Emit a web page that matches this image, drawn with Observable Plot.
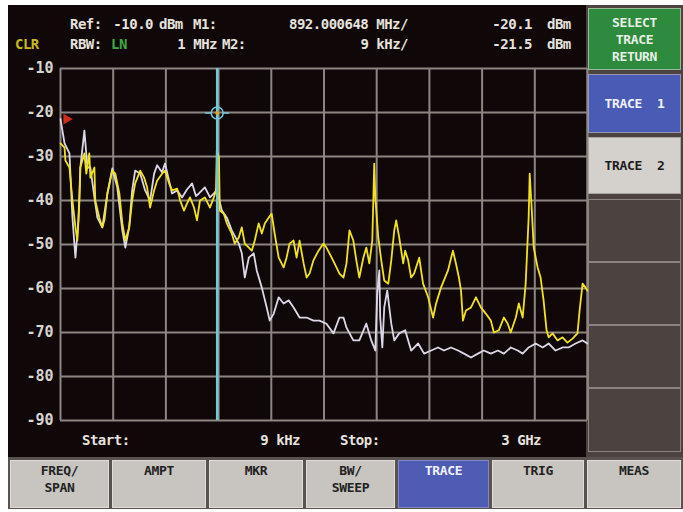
<!DOCTYPE html>
<html>
<head>
<meta charset="utf-8">
<script src="https://cdn.jsdelivr.net/npm/d3@7"></script>
<script src="https://cdn.jsdelivr.net/npm/@observablehq/plot@0.6"></script>
<style>
  html, body { margin: 0; padding: 0; background: #fff; }
  #app { position: relative; width: 683px; height: 512px; overflow: hidden;
         font-family: "DejaVu Sans Mono", monospace; font-weight: bold; }
  .screen { position: absolute; left: 8px; top: 5px; width: 578px; height: 452px; background: #100808; }
  .panel { position: absolute; left: 586px; top: 5px; width: 97px; height: 452px; background: #4c4240; }
  .menu { position: absolute; left: 8px; top: 457px; width: 675px; height: 52px; background: #5a5250; }
  .t { position: absolute; font-size: 14px; letter-spacing: -0.5px; line-height: 16px; color: #e6e2de; white-space: pre; }
  .key { position: absolute; box-sizing: border-box; display: flex; justify-content: center;
         text-align: center; white-space: pre; font-size: 13px; letter-spacing: -0.3px; line-height: 17px; }
  #chart { position: absolute; left: 0; top: 0; }
</style>
</head>
<body>
<div id="app">
  <div class="screen"></div>
  <div class="panel"></div>
  <div class="menu"></div>
  <div id="chart"></div>
</div>
<script>
// Sweep settings
const startMHz = 0.009;      // 9 kHz
const stopMHz = 3000;        // 3 GHz
const refLevel = -10.0;      // dBm
const bottomLevel = -90;     // dBm
const rbwMHz = 1;

// Graticule
const freqGrid = [0.009, 300, 600, 900, 1200, 1500, 1800, 2100, 2400, 2700, 3000];
const levelTicks = [-10, -20, -30, -40, -50, -60, -70, -80, -90];

// Markers
const marker1 = {name: "M1", freq: 892.000648, level: -20.1};
const marker2 = {name: "M2", freq: 0.009, level: -21.5};

// Trace 1 (yellow): [frequency MHz, level dBm]
const trace1 = [
  [0.009,-27],[23,-28],[28,-30.9],[51,-32.5],[68,-40],[85,-46.1],[96,-49.1],[108,-40],[113,-32.5],
  [136,-29.3],[147,-33.9],[164,-29.3],[170,-34.8],[193,-32.5],[198,-40],[221,-43.9],[238,-46.1],
  [250,-44.5],[267,-38.4],[295,-33.2],[312,-33.9],[335,-38.4],[352,-45.2],[369,-49.1],[391,-46.1],
  [408,-40],[425,-36.1],[454,-33.2],[476,-34.8],[493,-37],[510,-41.6],[533,-37.7],[550,-35.5],
  [578,-33.9],[595,-33.2],[618,-36.1],[635,-37.7],[664,-37.3],[681,-40],[703,-42.3],[720,-40.7],
  [737,-39.3],[760,-41.6],[777,-44.5],[794,-40],[822,-39.3],[851,-41.6],[873,-39.3],[885,-37.7],
  [890,-28.6],[902,-30.2],[907,-42.3],[930,-43],[947,-45.2],[975,-47.5],[992,-49.8],[1015,-48.4],
  [1032,-46.1],[1049,-49.8],[1072,-50.7],[1089,-51.4],[1106,-49.1],[1128,-45.2],[1146,-47.5],
  [1163,-45.2],[1185,-43.9],[1202,-43],[1219,-47.5],[1242,-53],[1270,-55.2],[1287,-53],[1304,-49.8],
  [1327,-49.1],[1344,-53],[1361,-49.1],[1384,-54.3],[1401,-57.5],[1418,-56.6],[1440,-53.6],
  [1469,-51.4],[1497,-49.8],[1514,-50.7],[1531,-52],[1560,-54.3],[1588,-56.6],[1611,-57.5],
  [1628,-54.3],[1645,-46.8],[1667,-49.1],[1684,-53.6],[1701,-57.5],[1724,-53],[1741,-50.7],
  [1758,-54.3],[1775,-49.1],[1786,-31.6],[1792,-39.3],[1809,-48.4],[1826,-53.6],[1843,-58.2],
  [1866,-58.9],[1883,-53.6],[1900,-46.8],[1911,-44.5],[1928,-48.4],[1951,-54.3],[1962,-51.4],
  [1979,-53.6],[1996,-57.5],[2013,-56.6],[2042,-53],[2064,-58.9],[2093,-62],[2121,-66.6],
  [2138,-63.4],[2166,-59.8],[2206,-55.9],[2234,-51.4],[2251,-54.3],[2268,-57.5],[2280,-60.5],
  [2291,-67.3],[2308,-65],[2337,-64.3],[2365,-62],[2393,-64.3],[2421,-65.7],[2450,-67.3],
  [2467,-70],[2495,-69.5],[2524,-66.6],[2546,-68],[2563,-70],[2592,-66.6],[2609,-63.4],
  [2631,-66.6],[2648,-58.9],[2665,-43.9],[2671,-33.9],[2682,-41.6],[2694,-50.7],[2716,-55.2],
  [2733,-57.5],[2750,-62.7],[2767,-69.5],[2779,-71.1],[2801,-70.2],[2830,-71.8],[2858,-71.1],
  [2886,-72.3],[2915,-71.4],[2943,-70.2],[2955,-65],[2972,-58.9],[2989,-59.8],[3000,-60.5]
];

// Trace 2 (white): [frequency MHz, level dBm]
const trace2 = [
  [0.009,-21.5],[23,-27],[51,-29.3],[68,-43.9],[85,-53],[102,-44.5],[113,-32.5],[136,-24.1],
  [153,-32.5],[170,-32.5],[193,-39.3],[210,-43.9],[238,-46.1],[267,-38.4],[295,-32.7],[323,-37],
  [352,-46.8],[369,-50.7],[391,-46.1],[408,-37.7],[425,-33.2],[454,-33.9],[482,-37.7],[510,-40],
  [533,-33.9],[550,-32],[578,-33.6],[595,-31.6],[618,-35.5],[635,-38.4],[664,-37.7],[692,-39.3],
  [720,-37.5],[749,-36.1],[771,-39],[788,-38.4],[822,-37],[851,-39.3],[890,-37.7],[919,-42.3],
  [947,-43.9],[975,-46.8],[1015,-49.8],[1032,-52],[1049,-57.5],[1072,-53],[1100,-52],[1117,-55.9],
  [1146,-59.8],[1174,-64.3],[1191,-67.3],[1214,-65.7],[1242,-62],[1270,-63.4],[1299,-62.7],
  [1327,-64.3],[1361,-66.6],[1401,-66.6],[1440,-67.3],[1474,-67.3],[1514,-68],[1554,-70.2],
  [1588,-66.6],[1611,-66.6],[1628,-68.9],[1667,-71.8],[1701,-71.8],[1741,-68],[1769,-71.8],
  [1792,-74.1],[1803,-61.1],[1815,-55.9],[1820,-66.6],[1832,-73.4],[1843,-64.3],[1860,-60.5],
  [1883,-68],[1900,-71.8],[1928,-70.2],[1962,-69.5],[1996,-74.1],[2036,-72.5],[2070,-74.8],
  [2110,-74.1],[2149,-73.4],[2183,-74.1],[2223,-73.4],[2263,-74.1],[2297,-74.8],[2337,-75.7],
  [2376,-74.8],[2410,-74.1],[2450,-74.8],[2490,-74.1],[2524,-74.8],[2563,-73.4],[2603,-74.1],
  [2631,-74.8],[2665,-73.4],[2705,-72.5],[2745,-73.4],[2779,-72.5],[2818,-74.1],[2858,-73.4],
  [2892,-73.4],[2932,-72.5],[2972,-71.8],[3000,-72.5]
];

// Key labels
const softKeys = ["SELECT\nTRACE\nRETURN", "TRACE  1", "TRACE  2", "", "", "", ""];
const menuKeys = ["FREQ/\nSPAN", "AMPT", "MKR", "BW/\nSWEEP", "TRACE", "TRIG", "MEAS"];
const activeMenu = "TRACE";

const fmtFreq = f => f < 1 ? `${+(f * 1000).toFixed(3)} kHz` : f >= 1000 ? `${+(f / 1000).toFixed(6)} GHz` : `${f.toFixed(6)} MHz`;
const fmtSpan = f => f < 1 ? `${+(f * 1000).toFixed(3)} kHz` : f >= 1000 ? `${+(f / 1000).toFixed(3)} GHz` : `${f} MHz`;

// Marker crosshair: ring with short horizontal arms
const crosshair = {
  draw(ctx, size) {
    const r = Math.sqrt(size / Math.PI);
    ctx.moveTo(-2 * r, 0); ctx.lineTo(-r, 0);
    ctx.moveTo(r, 0); ctx.lineTo(2 * r, 0);
    ctx.moveTo(r, 0); ctx.arc(0, 0, r, 0, 2 * Math.PI);
  }
};

const gridColor = "#8c8682";
const chart = Plot.plot({
  width: 600,
  height: 457,
  marginLeft: 60,
  marginRight: 13,
  marginTop: 68,
  marginBottom: 37,
  style: {background: "transparent", color: "#d8d4d0", fontFamily: "DejaVu Sans Mono", fontSize: "15px", fontWeight: "bold"},
  x: {domain: [startMHz, stopMHz], axis: null},
  y: {domain: [bottomLevel, refLevel], ticks: levelTicks, tickSize: 0, tickPadding: 7, label: null, tickFormat: d => String(d)},
  marks: [
    Plot.ruleX(freqGrid, {stroke: gridColor, strokeWidth: 2}),
    Plot.ruleY(levelTicks, {stroke: gridColor, strokeWidth: 2}),
    Plot.line(trace2, {x: d => d[0], y: d => d[1], stroke: "#dcd8e8", strokeWidth: 1.8}),
    Plot.line(trace1, {x: d => d[0], y: d => d[1], stroke: "#f2e21e", strokeWidth: 1.8}),
    Plot.ruleX([marker1], {x: "freq", stroke: "#76c7da", strokeWidth: 2.5}),
    Plot.dot([marker1], {x: "freq", y: "level", symbol: crosshair, r: 6, fill: "none", stroke: "#76c7da", strokeWidth: 1.5}),
    Plot.dot([marker1], {x: "freq", y: "level", r: 2, fill: "#d8a818"}),
    Plot.dot([marker2], {x: "freq", y: "level", symbol: "triangle", rotate: 90, r: 4, dx: 6, fill: "#d52a1a"})
  ]
});
document.getElementById("chart").append(chart);

// Screen annotations
const app = document.getElementById("app");
function text(str, x, y, {anchor = "start", color = "#e6e2de"} = {}) {
  const el = document.createElement("div");
  el.className = "t";
  el.textContent = str;
  const tx = anchor === "end" ? "-100%" : anchor === "middle" ? "-50%" : "0";
  el.style.left = x + "px";
  el.style.top = y + "px";
  el.style.color = color;
  el.style.transform = `translate(${tx}, -50%)`;
  app.append(el);
}
const row1 = 24, row2 = 44;
text("Ref:", 70, row1);
text(refLevel.toFixed(1), 153, row1, {anchor: "end"});
text("dBm", 159, row1);
text(marker1.name + ":", 193, row1);
text(fmtFreq(marker1.freq) + "/", 289, row1);
text(marker1.level.toFixed(1), 532, row1, {anchor: "end"});
text("dBm", 547, row1);
text("CLR", 15, row2, {color: "#c8b818"});
text("RBW:", 70, row2);
text("LN", 111, row2, {color: "#3fa83f"});
text(fmtSpan(rbwMHz), 217, row2, {anchor: "end"});
text(marker2.name + ":", 222, row2);
text(fmtSpan(marker2.freq) + "/", 408, row2, {anchor: "end"});
text(marker2.level.toFixed(1), 532, row2, {anchor: "end"});
text("dBm", 547, row2);
text("Start:", 82, 440);
text(fmtSpan(startMHz), 300, 440, {anchor: "end"});
text("Stop:", 340, 440);
text(fmtSpan(stopMHz), 541, 440, {anchor: "end"});

// Soft keys on the right
function key(label, left, top, width, height, bg, color, border, padTop) {
  const el = document.createElement("div");
  el.className = "key";
  el.textContent = label;
  Object.assign(el.style, {left: left + "px", top: top + "px", width: width + "px", height: height + "px",
    background: bg, color, border: `1px solid ${border}`, alignItems: padTop == null ? "center" : "flex-start",
    paddingTop: (padTop || 0) + "px"});
  app.append(el);
}
const softTops = [8, 74, 137, 199, 262, 325, 388];
const softHeights = [62, 59, 57, 63, 63, 63, 64];
const softStyles = [
  ["#2e8a3c", "#e6f0e6", "#9ab89a"],
  ["#4a5bb6", "#f2f2ff", "#9a98b0"],
  ["#d4d0cc", "#1c1c1c", "#a8a4a0"],
  ["#4c4240", "#fff", "#8c8480"],
  ["#4c4240", "#fff", "#8c8480"],
  ["#4c4240", "#fff", "#8c8480"],
  ["#4c4240", "#fff", "#8c8480"]
];
softKeys.forEach((k, i) => {
  const [bg, fg, bd] = softStyles[i];
  key(k, 588, softTops[i], 93, softHeights[i], bg, fg, bd);
});

// Menu keys along the bottom
const menuLefts = [10, 112, 209, 306, 398, 492, 587];
const menuWidths = [99, 94, 94, 89, 91, 92, 94];
menuKeys.forEach((k, i) => {
  const active = k === activeMenu;
  key(k, menuLefts[i], 460, menuWidths[i], 48, active ? "#4e5cb4" : "#c8c4c0",
      active ? "#f2f2ff" : "#222", active ? "#8088c8" : "#e0dcd8", 1);
});
</script>
</body>
</html>
